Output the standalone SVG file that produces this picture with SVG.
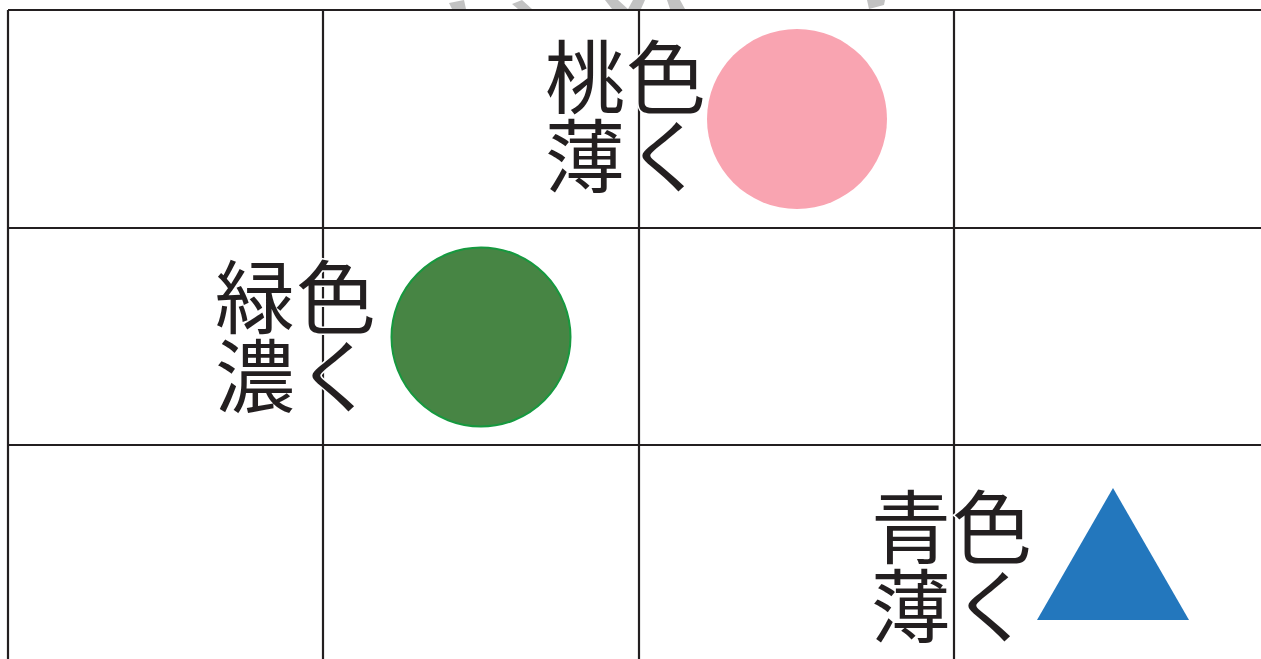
<svg xmlns="http://www.w3.org/2000/svg" width="1261" height="659" viewBox="0 0 1261 659">
<style>
.grid{stroke:#231f20;stroke-width:2.2;fill:none}
.lbl{font-family:"Noto Sans CJK JP","Noto Sans CJK SC",sans-serif;font-size:80px;fill:#231f20;stroke:#ffffff;stroke-width:3;paint-order:stroke;letter-spacing:1px}
.frag{fill:#c2c2c2}
</style>
<rect width="1261" height="659" fill="#ffffff"/>
<g id="fragments">
<polygon class="frag" points="449,3 464,0 466,9 452,9"/>
<polygon class="frag" points="512,4 522,0 532,9 518,9"/>
<polygon class="frag" points="605,0 618,0 628,9 612,9"/>
<polygon class="frag" points="628,9 633,0 645,0 641,9"/>
<polygon class="frag" points="667,0 680,0 685,9 670,9"/>
<polygon class="frag" points="867,0 885,0 884,5 869,9"/>
</g>
<g id="grid">
<line class="grid" x1="8" y1="10" x2="1261" y2="10"/>
<line class="grid" x1="8" y1="228" x2="1261" y2="228"/>
<line class="grid" x1="8" y1="445" x2="1261" y2="445"/>
<line class="grid" x1="8" y1="10" x2="8" y2="659"/>
<line class="grid" x1="323" y1="10" x2="323" y2="659"/>
<line class="grid" x1="639" y1="10" x2="639" y2="659"/>
<line class="grid" x1="954" y1="10" x2="954" y2="659"/>
</g>
<g id="pink">
<circle cx="797" cy="119" r="90" fill="#f9a4b1"/>
<text class="lbl" x="545" y="107">桃色<tspan x="545" dy="79">薄く</tspan></text>
</g>
<g id="green">
<circle cx="481" cy="337" r="89.5" fill="#478544" stroke="#16993f" stroke-width="2"/>
<text class="lbl" x="215" y="327">緑色<tspan x="215" dy="79">濃く</tspan></text>
</g>
<g id="blue">
<polygon points="1113,488 1189,620 1037,620" fill="#2377bd"/>
<text class="lbl" x="871" y="557">青色<tspan x="871" dy="79">薄く</tspan></text>
</g>
</svg>
